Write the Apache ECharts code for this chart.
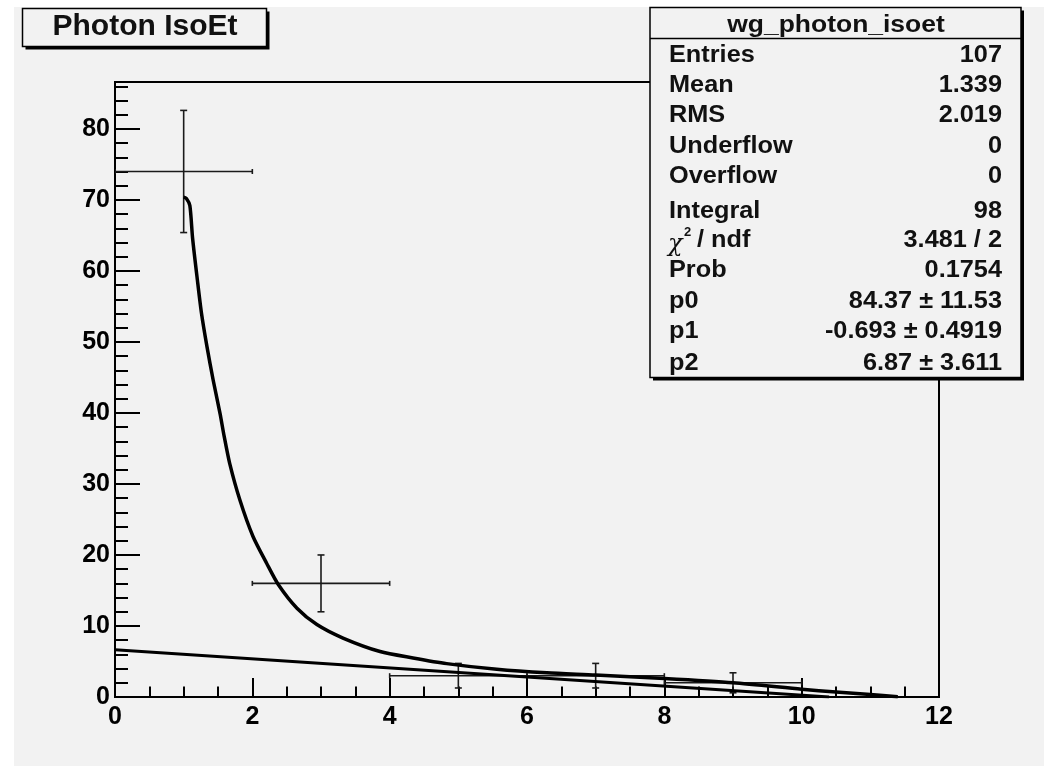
<!DOCTYPE html>
<html>
<head>
<meta charset="utf-8">
<title>Photon IsoEt</title>
<script src="https://cdn.jsdelivr.net/npm/echarts@6/dist/echarts.min.js"></script>
<style>
  html, body { margin: 0; padding: 0; background: #ffffff; }
  #chart {
    width: 1044px; height: 766px;
    background: #f2f2f2;
    box-shadow: inset 14px 7px 0 0 #ffffff;
  }
</style>
</head>
<body>
<div id="chart"></div>
<script>
// Histogram bins (width 2) with statistical errors
const binCenters = [1, 3, 5, 7, 9];
const binHalfWidths = [1, 1, 1, 1, 1];
const binCounts = [74, 16, 3, 3, 2];
const binErrors = [8.6, 4.0, 1.73, 1.73, 1.41];

// Fitted decay curve, sampled along x
const fitX = [1.00, 1.04, 1.09, 1.13, 1.20, 1.26, 1.34, 1.43, 1.53, 1.59, 1.67, 1.82, 2.01, 2.21, 2.38, 2.65, 2.94, 3.32, 3.86, 4.34, 4.83, 5.56, 6.29, 7.0, 8.0, 9.0, 10.0, 10.5, 11.0, 11.4];
const fitY = [70.4, 70.2, 69.2, 64.6, 58.7, 54.0, 49.3, 44.6, 39.9, 36.7, 32.9, 27.7, 22.6, 18.8, 15.8, 12.5, 10.2, 8.3, 6.4, 5.5, 4.7, 3.9, 3.4, 3.1, 2.6, 2.0, 1.1, 0.7, 0.35, 0.05];

// Linear background component
const bkgX = [0, 10.4];
const bkgY = [6.65, 0];

// Axis settings
const xTickLabels = [0, 2, 4, 6, 8, 10, 12];
const yTickLabels = [0, 10, 20, 30, 40, 50, 60, 70, 80];
const yMax = 86.6;

// Statistics box contents
const statsTitle = 'wg_photon_isoet';
const statNames = ['Entries', 'Mean', 'RMS', 'Underflow', 'Overflow', 'Integral', '', 'Prob', 'p0', 'p1', 'p2'];
const statValues = ['107', '1.339', '2.019', '0', '0', '98', '3.481 / 2', '0.1754', '84.37 \u00b1 11.53', '-0.693 \u00b1 0.4919', '6.87 \u00b1 3.611'];
const statBaselines = [61.7, 91.7, 121.7, 152.7, 183.3, 218.3, 247.3, 277.3, 308.3, 338.3, 370];

const FONT = '"Liberation Sans", Arial, Helvetica, sans-serif';
const chart = echarts.init(document.getElementById('chart'), null, { renderer: 'canvas' });

const errData = binCenters.map((c, i) => [c, binCounts[i], binHalfWidths[i], binErrors[i]]);
const fitData = fitX.map((x, i) => [x, fitY[i]]);
const bkgData = bkgX.map((x, i) => [x, bkgY[i]]);

function seg(p1, p2, style) {
  return { type: 'line', shape: { x1: p1[0], y1: p1[1], x2: p2[0], y2: p2[1] }, style: style };
}

// Stats box graphics
const SFS = 23, SSX = 1.1, MID = 0.27;
const statEls = [];
statNames.forEach((n, i) => {
  const yMid = statBaselines[i] - MID * SFS;
  if (n) {
    statEls.push({ type: 'text', x: 669, y: yMid, scaleX: SSX, z: 101,
      style: { text: n, font: 'bold ' + SFS + 'px ' + FONT, fill: '#111', align: 'left', verticalAlign: 'middle' } });
  }
  statEls.push({ type: 'text', x: 1002, y: yMid, scaleX: SSX, z: 101,
    style: { text: statValues[i], font: 'bold ' + SFS + 'px ' + FONT, fill: '#111', align: 'right', verticalAlign: 'middle' } });
});
// chi^2 / ndf label
const chiBase = statBaselines[6];
statEls.push({ type: 'text', x: 668, y: chiBase - 0.12 * SFS, z: 101,
  style: { text: '\u03c7', font: 'italic 24px "DejaVu Serif", serif', fill: '#111', align: 'left', verticalAlign: 'middle' } });
statEls.push({ type: 'text', x: 684, y: chiBase - 15, z: 101,
  style: { text: '2', font: 'bold 13px ' + FONT, fill: '#111', align: 'left', verticalAlign: 'middle' } });
statEls.push({ type: 'text', x: 697, y: chiBase - MID * SFS, scaleX: SSX, z: 101,
  style: { text: '/ ndf', font: 'bold ' + SFS + 'px ' + FONT, fill: '#111', align: 'left', verticalAlign: 'middle' } });

const option = {
  animation: false,
  backgroundColor: 'transparent',
  grid: {
    left: 115, top: 82, right: 105, bottom: 69,
    show: true, borderColor: '#000', borderWidth: 2, backgroundColor: 'transparent'
  },
  xAxis: {
    type: 'value', min: 0, max: 12, interval: 2,
    axisLine: { show: true, onZero: false, lineStyle: { color: '#000', width: 2 } },
    axisTick: { show: true, inside: true, length: 19, lineStyle: { color: '#000', width: 2 } },
    minorTick: { show: true, splitNumber: 4, length: 10.5, lineStyle: { color: '#000', width: 2 } },
    splitLine: { show: false },
    minorSplitLine: { show: false },
    axisLabel: {
      margin: 8, color: '#000', fontSize: 25, fontWeight: 'bold', fontFamily: FONT,
      formatter: v => (xTickLabels.indexOf(v) >= 0 ? String(v) : '')
    }
  },
  yAxis: [
    {
      type: 'value', min: 0, max: yMax, interval: 10,
      axisLine: { show: true, onZero: false, lineStyle: { color: '#000', width: 2 } },
      axisTick: { show: true, inside: true, length: 25, lineStyle: { color: '#000', width: 2 } },
      splitLine: { show: false },
      axisLabel: {
        margin: 5, color: '#000', fontSize: 25, fontWeight: 'bold', fontFamily: FONT,
        showMaxLabel: false,
        formatter: v => (yTickLabels.indexOf(v) >= 0 ? String(v) : '')
      }
    },
    {
      // minor ticks every 2 units
      type: 'value', min: 0, max: yMax, interval: 2, position: 'left',
      axisLine: { show: false },
      axisTick: { show: true, inside: true, length: 13, lineStyle: { color: '#000', width: 2 } },
      splitLine: { show: false },
      axisLabel: { show: false }
    }
  ],
  series: [
    {
      type: 'custom',
      name: 'data',
      data: errData,
      z: 3,
      clip: true,
      renderItem: function (params, api) {
        const cx = api.value(0), cy = api.value(1), hw = api.value(2), er = api.value(3);
        const l = api.coord([cx - hw, cy]);
        const r = api.coord([cx + hw, cy]);
        const t = api.coord([cx, cy + er]);
        const b = api.coord([cx, cy - er]);
        const st = { stroke: '#1a1a1a', lineWidth: 1.6 };
        const cap = 3.5, endT = 2.5;
        return {
          type: 'group',
          children: [
            seg(l, r, st),
            seg(t, b, st),
            seg([t[0] - cap, t[1]], [t[0] + cap, t[1]], st),
            seg([b[0] - cap, b[1]], [b[0] + cap, b[1]], st),
            seg([l[0], l[1] - endT], [l[0], l[1] + endT], st),
            seg([r[0], r[1] - endT], [r[0], r[1] + endT], st)
          ]
        };
      }
    },
    {
      type: 'line',
      name: 'fit',
      data: fitData,
      showSymbol: false,
      smooth: 0.25,
      z: 4,
      lineStyle: { color: '#000', width: 3.5, join: 'round' }
    },
    {
      type: 'line',
      name: 'background',
      data: bkgData,
      showSymbol: false,
      z: 4,
      lineStyle: { color: '#000', width: 3.2 }
    }
  ],
  graphic: {
    elements: [
      // title box with drop shadow
      { type: 'rect', shape: { x: 25.5, y: 11.5, width: 244, height: 38 }, style: { fill: '#000' }, z: 100 },
      { type: 'rect', shape: { x: 22.5, y: 8.5, width: 244, height: 38 }, style: { fill: '#f2f2f2', stroke: '#000', lineWidth: 1.5 }, z: 100 },
      { type: 'text', x: 145, y: 26.5, z: 101,
        style: { text: 'Photon IsoEt', font: 'bold 30px ' + FONT, fill: '#111', align: 'center', verticalAlign: 'middle' } },
      // statistics box with drop shadow
      { type: 'rect', shape: { x: 653, y: 10.5, width: 371, height: 370 }, style: { fill: '#000' }, z: 100 },
      { type: 'rect', shape: { x: 650, y: 7.5, width: 371, height: 370 }, style: { fill: '#f2f2f2', stroke: '#000', lineWidth: 1.5 }, z: 100 },
      { type: 'line', shape: { x1: 650, y1: 38.5, x2: 1021, y2: 38.5 }, style: { stroke: '#000', lineWidth: 1.5 }, z: 101 },
      { type: 'text', x: 836, y: 31.7 - MID * SFS, scaleX: 1.15, z: 101,
        style: { text: statsTitle, font: 'bold ' + SFS + 'px ' + FONT, fill: '#111', align: 'center', verticalAlign: 'middle' } }
    ].concat(statEls)
  }
};

chart.setOption(option);
</script>
</body>
</html>
